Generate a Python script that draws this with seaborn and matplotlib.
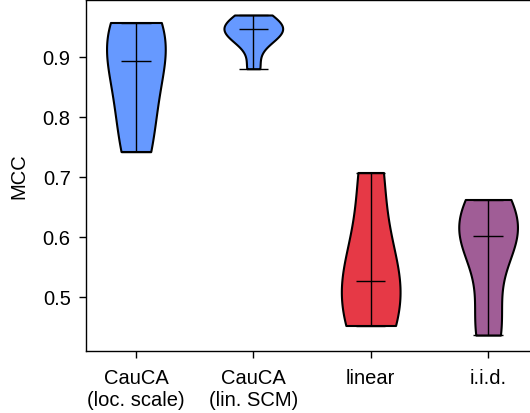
import numpy as np
import pandas as pd
import matplotlib
matplotlib.use("Agg")
import matplotlib.pyplot as plt
import seaborn as sns

# ------------------------------------------------------------------
# data (MCC per seed)
# ------------------------------------------------------------------
methods = ["CauCA\n(loc. scale)", "CauCA\n(lin. SCM)", "linear", "i.i.d."]
mcc_cauca_loc_scale = [0.742, 0.82, 0.893, 0.935, 0.957]
mcc_cauca_lin_scm = [0.88, 0.925, 0.938, 0.946, 0.95, 0.953, 0.9695]
mcc_linear = [0.452, 0.51, 0.542, 0.707]
mcc_iid = [0.436, 0.466, 0.59, 0.6005, 0.612, 0.63, 0.662]
colors = ["#6699FF", "#6699FF", "#E63946", "#A05D96"]

groups = [mcc_cauca_loc_scale, mcc_cauca_lin_scm, mcc_linear, mcc_iid]
df = pd.DataFrame({
    "method": np.repeat(methods, [len(g) for g in groups]),
    "mcc": np.concatenate(groups),
})

sns.set_style("ticks")
plt.rcParams["font.family"] = ["Liberation Sans", "DejaVu Sans"]
plt.rcParams["axes.edgecolor"] = "black"
plt.rcParams["xtick.color"] = "black"
plt.rcParams["ytick.color"] = "black"
plt.rcParams["text.color"] = "black"
plt.rcParams["axes.labelcolor"] = "black"

fig = plt.figure(figsize=(5.3, 4.14), dpi=100)
ax = fig.add_axes([86 / 530, 1 - 352 / 414, 452 / 530, 351 / 414])

sns.violinplot(data=df, x="method", y="mcc", hue="method", order=methods,
               hue_order=methods, palette=colors, cut=0, inner=None,
               width=0.5, density_norm="width", linewidth=1.5,
               linecolor="black", saturation=1, legend=False, ax=ax)

# extrema bars + median, like matplotlib's violinplot
stats = df.groupby("method", sort=False)["mcc"].agg(["min", "max", "median"]).reindex(methods)
pos = np.arange(len(methods))
ax.vlines(pos, stats["min"], stats["max"], color="black", lw=1)
for col in ["min", "max", "median"]:
    ax.hlines(stats[col], pos - 0.125, pos + 0.125, color="black", lw=1)

ax.set_xlim(-0.425, 3.425)
ax.set_ylim(0.4095, 0.9945)
ax.set_yticks([0.5, 0.6, 0.7, 0.8, 0.9])
ax.set_xlabel("")
ax.set_ylabel("MCC", fontsize=14.5, labelpad=10)
ax.tick_params(labelsize=14.5, length=5, width=1)
ax.tick_params(axis="x", pad=7)
ax.tick_params(axis="y", pad=6)
for s in ax.spines.values():
    s.set_linewidth(1)

fig.savefig("out.png", dpi=100)
